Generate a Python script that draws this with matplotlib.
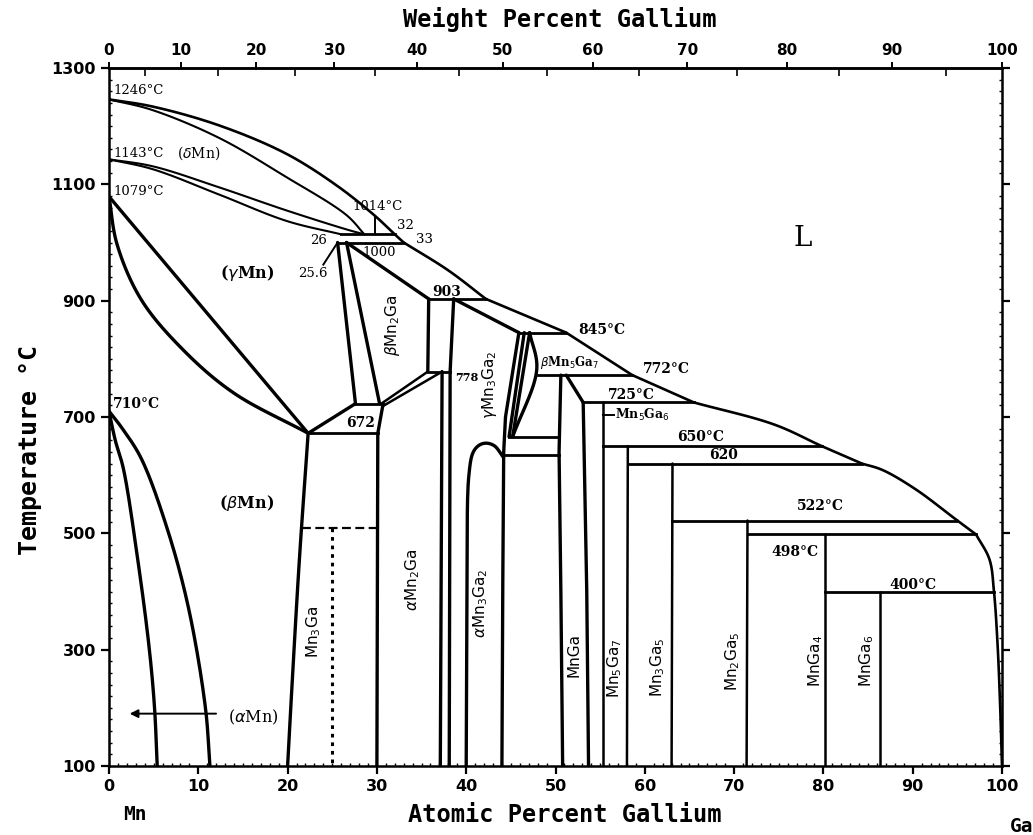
import numpy as np
import matplotlib
matplotlib.use("Agg")
import matplotlib.pyplot as plt
from matplotlib.ticker import MultipleLocator, FixedLocator

# ---------------- data (x = at.% Ga, T = deg C) ----------------
liquidus = [(0, 1246), (4.8, 1234), (12.2, 1202), (19.8, 1153), (25.5, 1098), (29.7, 1047),
            (32.0, 1014), (33.0, 1000), (38.0, 952), (42.2, 903), (51.2, 845), (58.6, 772),
            (65.5, 725), (74.5, 687), (79.8, 650), (84.3, 620), (86.6, 609), (90.3, 576),
            (95.0, 522), (97.1, 498), (98.6, 455), (99.1, 400), (99.5, 310), (99.8, 200), (100, 100)]
liquidus_kinks = [32.0, 33.0, 42.2, 51.2, 58.6, 65.5, 79.8, 84.3, 95.0, 97.1]
delta_solidus = [(0, 1246), (4.8, 1228), (12.3, 1180), (19.8, 1113), (26.6, 1047), (28.6, 1014)]
delta_lower = [(0, 1143), (4.9, 1131), (12.3, 1095), (19.9, 1055), (26.7, 1022), (28.6, 1014)]
gamma_upper = [(0, 1143), (4.9, 1126), (12.4, 1082), (19.9, 1037), (26.0, 1014)]
gamma_beta_a = [(0, 1079), (22.3, 672)]
gamma_beta_b = [(0, 1079), (0.9, 997), (3.6, 902), (8.2, 817), (13.9, 742), (22.3, 672)]
alpha_a = [(0, 710), (0.7, 660), (1.6, 612), (3.2, 457), (4.5, 303), (5.1, 200), (5.4, 100)]
alpha_b = [(0, 710), (1.5, 680), (3.6, 629), (6.5, 509), (8.9, 372), (10.8, 200), (11.3, 100)]

mn3ga_left = [(22.3, 672), (21.3, 450), (20.5, 240), (20.0, 100)]
mn3ga_right = [(30.7, 723), (30.1, 672), (30.0, 100)]
box672_left = [(22.3, 672), (27.6, 723)]
gamma_right1 = [(25.6, 1000), (27.6, 723)]
gamma_right2 = [(26.6, 1000), (30.3, 723)]
beta_right = [(26.6, 1000), (35.8, 903)]
box903_left = [(35.8, 903), (35.7, 778)]
box903_right = [(38.6, 903), (38.2, 778)]
strip_a = [(30.5, 723), (35.7, 778)]
strip_b = [(30.7, 719), (37.3, 778)]
amn2ga_right1 = [(37.3, 778), (37.1, 100)]
amn2ga_right2 = [(38.2, 778), (38.1, 100)]
gamma32_top = [(38.6, 903), (45.9, 845)]
line_L1 = [(45.9, 845), (44.4, 700), (44.2, 640), (44.1, 420), (44.0, 100)]
line_L2 = [(46.5, 845), (44.8, 666)]
tri_a = [(47.1, 845), (45.2, 666)]
tri_b = [(47.1, 845), (47.9, 782), (45.2, 666)]
dome = [(40.0, 100), (40.1, 400), (40.3, 600), (40.8, 640), (41.5, 652), (42.3, 655),
        (43.2, 650), (44.1, 632)]
mnga_left = [(50.6, 772), (50.4, 640), (50.6, 400), (50.8, 100)]
mnga_right_top = [(51.2, 772), (53.1, 725)]
mnga_right = [(53.1, 725), (53.5, 400), (53.7, 100)]
mn5ga6 = [(55.3, 725), (55.3, 100)]
mn5ga7 = [(58.1, 650), (58.0, 100)]
mn3ga5 = [(63.1, 620), (63.0, 100)]
mn2ga5 = [(71.5, 522), (71.4, 100)]
mnga4 = [(80.2, 498), (80.2, 100)]
mnga6 = [(86.3, 400), (86.3, 100)]
mn3ga_order = [(25.0, 510), (25.0, 100)]

# isotherms: temperature, start x, end x
iso_T = [1014, 1000, 903, 845, 778, 772, 725, 723, 672, 666, 650, 635, 620, 522, 498, 400]
iso_x0 = [26.0, 25.6, 35.8, 45.9, 35.7, 48.0, 53.1, 27.6, 22.3, 44.8, 55.3, 44.2, 58.1, 63.1, 71.6, 80.2]
iso_x1 = [32.0, 33.0, 42.2, 51.2, 38.2, 58.6, 65.5, 30.7, 30.1, 50.4, 79.8, 50.4, 84.3, 95.0, 97.1, 99.1]
dashed_T = 510
dashed_x = (21.6, 30.1)

# text labels (x, T, text)
temp_labels = [(0.5, 1262, "1246°C"), (0.5, 1153, "1143°C"), (0.5, 1088, "1079°C"),
               (27.3, 1062, "1014°C"), (32.3, 1030, "32"), (34.4, 1005, "33"),
               (22.5, 1003, "26"), (21.2, 947, "25.6"), (28.4, 983, "1000")]
bold_labels = [(0.4, 722, "710°C"), (26.5, 690, "672"), (36.2, 915, "903"),
               (52.5, 850, "845°C"), (59.8, 782, "772°C"), (55.9, 738, "725°C"),
               (63.6, 666, "650°C"), (67.2, 634, "620"), (77.0, 547, "522°C"),
               (74.2, 468, "498°C"), (87.4, 412, "400°C")]
phase_rot = [(31.7, 858, r"$\beta$Mn$_2$Ga"), (42.6, 755, r"$\gamma$Mn$_3$Ga$_2$"),
             (22.9, 330, r"Mn$_3$Ga"), (34.0, 420, r"$\alpha$Mn$_2$Ga"),
             (41.6, 380, r"$\alpha$Mn$_3$Ga$_2$"), (52.1, 290, "MnGa"),
             (56.6, 268, r"Mn$_5$Ga$_7$"), (61.4, 270, r"Mn$_3$Ga$_5$"),
             (69.8, 280, r"Mn$_2$Ga$_5$"), (79.1, 280, r"MnGa$_4$"), (84.8, 280, r"MnGa$_6$")]

x_ticks = list(range(0, 101, 10))
y_ticks = list(range(100, 1301, 200))
wt_ticks = list(range(0, 101, 10))

M_GA, M_MN = 69.723, 54.938


def at2wt(a):
    a = np.clip(np.asarray(a, dtype=float), 0, 100)
    return 100 * a * M_GA / (a * M_GA + (100 - a) * M_MN)


def wt2at(w):
    w = np.clip(np.asarray(w, dtype=float), 0, 100)
    return 100 * (w / M_GA) / (w / M_GA + (100 - w) / M_MN)


SX, SY = 8.93, 0.58  # approx. pixel scale, for isotropic curve smoothing


def smooth(pts, n=24):
    """Centripetal Catmull-Rom curve through the given points."""
    P = np.array(pts, float) * [SX, SY]
    if len(P) < 3:
        return P / [SX, SY]
    P = np.vstack([2 * P[0] - P[1], P, 2 * P[-1] - P[-2]])
    out = []
    for i in range(1, len(P) - 2):
        p0, p1, p2, p3 = P[i - 1], P[i], P[i + 1], P[i + 2]
        t0 = 0.0
        t1 = t0 + np.linalg.norm(p1 - p0) ** 0.5 + 1e-9
        t2 = t1 + np.linalg.norm(p2 - p1) ** 0.5 + 1e-9
        t3 = t2 + np.linalg.norm(p3 - p2) ** 0.5 + 1e-9
        t = np.linspace(t1, t2, n)[:, None]
        a1 = (t1 - t) / (t1 - t0) * p0 + (t - t0) / (t1 - t0) * p1
        a2 = (t2 - t) / (t2 - t1) * p1 + (t - t1) / (t2 - t1) * p2
        a3 = (t3 - t) / (t3 - t2) * p2 + (t - t2) / (t3 - t2) * p3
        b1 = (t2 - t) / (t2 - t0) * a1 + (t - t0) / (t2 - t0) * a2
        b2 = (t3 - t) / (t3 - t1) * a2 + (t - t1) / (t3 - t1) * a3
        c = (t2 - t) / (t2 - t1) * b1 + (t - t1) / (t2 - t1) * b2
        out.append(c if i == 1 else c[1:])
    return np.vstack(out) / [SX, SY]


fig = plt.figure(figsize=(10.33, 8.35), dpi=100)
ax = fig.add_axes([109 / 1033, 1 - 766 / 835, 893 / 1033, 698 / 835])
ax.set_xlim(0, 100)
ax.set_ylim(100, 1300)


def draw(pts, lw=2.2, curve=True, **kw):
    arr = smooth(pts) if curve else np.array(pts, float)
    ax.plot(arr[:, 0], arr[:, 1], color="black", lw=lw, solid_capstyle="round",
            solid_joinstyle="round", **kw)


# liquidus drawn piecewise, with kinks at the invariant points
pieces, cur = [], [liquidus[0]]
for p in liquidus[1:]:
    cur.append(p)
    if p[0] in liquidus_kinks:
        pieces.append(cur)
        cur = [p]
pieces.append(cur)
for pc in pieces:
    draw(pc, lw=1.9)

for c in (delta_solidus, delta_lower, gamma_upper):
    draw(c, lw=1.5)
for c in (gamma_beta_b, alpha_a, alpha_b, mn3ga_left, dome, tri_b):
    draw(c, lw=2.4)
for c in (gamma_beta_a, mn3ga_right, box672_left, gamma_right1, gamma_right2, beta_right,
          box903_left, box903_right, amn2ga_right1, amn2ga_right2, gamma32_top,
          line_L1, line_L2, tri_a, mnga_left, mnga_right_top, mnga_right):
    draw(c, lw=2.4, curve=False)
for c in (strip_a, strip_b):
    draw(c, lw=1.8, curve=False)
for c in (mn5ga6, mn5ga7, mn3ga5, mn2ga5, mnga4, mnga6):
    draw(c, lw=1.8, curve=False)
for T, x0, x1 in zip(iso_T, iso_x0, iso_x1):
    ax.plot([x0, x1], [T, T], color="black", lw=2.0)
ax.plot(dashed_x, [dashed_T, dashed_T], color="black", lw=1.6, ls=(0, (4, 2)))
xs, ys = zip(*mn3ga_order)
ax.plot(xs, ys, color="black", lw=2.2, ls=(0, (1.2, 1.6)))

# leader lines
ax.plot([29.8, 29.8], [1045, 1014], color="black", lw=1.4)
ax.plot([24.0, 25.6], [962, 1000], color="black", lw=1.4)
ax.plot([55.3, 56.5], [703, 703], color="black", lw=1.4)
ax.annotate("", xy=(2.0, 190), xytext=(12.3, 190),
            arrowprops=dict(arrowstyle="-|>", color="black", lw=1.4, mutation_scale=12))

serif = "DejaVu Serif"
for x, T, s in temp_labels:
    ax.text(x, T, s, fontsize=9.5, family=serif, ha="left", va="center")
for x, T, s in bold_labels:
    ax.text(x, T, s, fontsize=10, family=serif, fontweight="bold", ha="left", va="center")
ax.text(38.75, 768, "778", fontsize=8, family=serif, fontweight="bold", ha="left", va="center")
ax.text(7.6, 1153, r"($\delta$Mn)", fontsize=10, family=serif, ha="left", va="center")
ax.text(15.5, 947, r"($\gamma$Mn)", fontsize=11.5, family=serif, fontweight="bold",
        ha="center", va="center")
ax.text(15.4, 553, r"($\beta$Mn)", fontsize=11.5, family=serif, fontweight="bold",
        ha="center", va="center")
ax.text(16.2, 183, r"($\alpha$Mn)", fontsize=11.5, family=serif, ha="center", va="center")
ax.text(48.3, 794, r"$\beta$Mn$_5$Ga$_7$", fontsize=8.5, family=serif, fontweight="bold",
        ha="left", va="center")
ax.text(56.7, 703, r"Mn$_5$Ga$_6$", fontsize=9, family=serif, fontweight="bold",
        ha="left", va="center")
ax.text(77.7, 1007, "L", fontsize=20, family=serif, ha="center", va="center")
for x, T, s in phase_rot:
    ax.text(x, T, s, fontsize=11, family="DejaVu Sans", rotation=90,
            ha="center", va="center")

# axes styling
for sp in ax.spines.values():
    sp.set_linewidth(1.8)
ax.xaxis.set_major_locator(FixedLocator(x_ticks))
ax.yaxis.set_major_locator(FixedLocator(y_ticks))
ax.xaxis.set_minor_locator(MultipleLocator(1))
ax.yaxis.set_minor_locator(MultipleLocator(20))
ax.tick_params(axis="both", which="major", direction="out", length=6, width=1.6,
               labelsize=11.5, right=True)
ax.tick_params(axis="both", which="minor", direction="in", length=2.5, width=1.0, right=True)
ax.tick_params(axis="y", which="major", labelright=False)
for lab in ax.get_xticklabels() + ax.get_yticklabels():
    lab.set_fontweight("bold")

sec = ax.secondary_xaxis("top", functions=(at2wt, wt2at))
sec.xaxis.set_major_locator(FixedLocator(wt_ticks))
sec.xaxis.set_minor_locator(MultipleLocator(5))
sec.tick_params(which="major", direction="out", length=4, width=1.4, labelsize=11)
sec.tick_params(which="minor", direction="in", length=6, width=1.2)
sec.spines["top"].set_linewidth(1.8)
for lab in sec.get_xticklabels():
    lab.set_fontweight("bold")

mono = "DejaVu Sans Mono"
fig.text(560 / 1033, 1 - 20 / 835, "Weight Percent Gallium", family=mono, fontweight="bold",
         fontsize=17, ha="center", va="center")
fig.text(565 / 1033, 1 - 815 / 835, "Atomic Percent Gallium", family=mono, fontweight="bold",
         fontsize=17, ha="center", va="center")
fig.text(30 / 1033, 1 - 450 / 835, "Temperature °C", family=mono, fontweight="bold",
         fontsize=18, rotation=90, ha="center", va="center")
fig.text(135 / 1033, 1 - 815 / 835, "Mn", family=mono, fontweight="bold", fontsize=14,
         ha="center", va="center")
fig.text(1022 / 1033, 1 - 826 / 835, "Ga", family=mono, fontweight="bold", fontsize=14,
         ha="center", va="center")

fig.savefig("out.png", dpi=100, facecolor="white")
